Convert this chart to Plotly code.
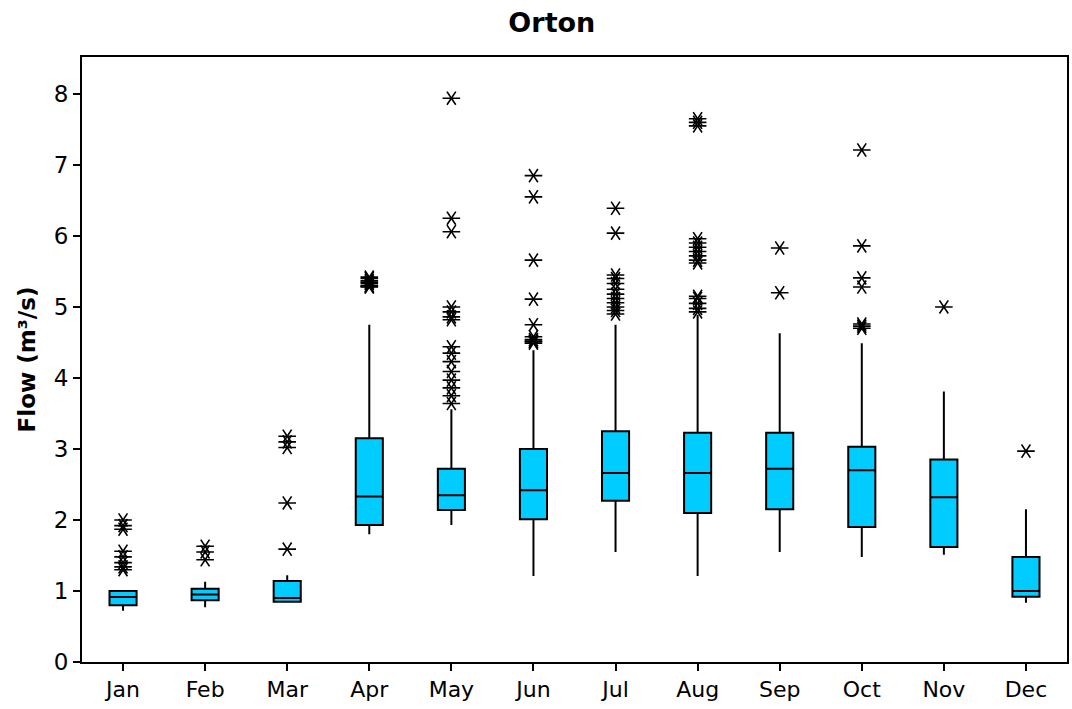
import plotly.graph_objects as go

months = ["Jan", "Feb", "Mar", "Apr", "May", "Jun", "Jul", "Aug", "Sep", "Oct", "Nov", "Dec"]
lower_whisker = [0.72, 0.77, 0.835, 1.80, 1.93, 1.21, 1.55, 1.21, 1.55, 1.48, 1.51, 0.835]
q1 = [0.80, 0.87, 0.85, 1.93, 2.14, 2.01, 2.27, 2.10, 2.15, 1.90, 1.62, 0.92]
median = [0.915, 0.95, 0.90, 2.33, 2.35, 2.42, 2.66, 2.66, 2.72, 2.70, 2.32, 1.00]
q3 = [1.00, 1.03, 1.14, 3.15, 2.72, 3.00, 3.25, 3.23, 3.23, 3.03, 2.85, 1.48]
upper_whisker = [1.01, 1.13, 1.22, 4.75, 3.56, 4.39, 4.75, 4.89, 4.63, 4.49, 3.81, 2.15]

outliers = {
    "Jan": [2.00, 1.92, 1.87, 1.56, 1.48, 1.40, 1.34, 1.30],
    "Feb": [1.63, 1.55, 1.44],
    "Mar": [3.18, 3.10, 3.02, 2.24, 1.59],
    "Apr": [5.42, 5.40, 5.37, 5.35, 5.33, 5.30, 5.29, 5.28],
    "May": [7.94, 6.25, 6.06, 5.00, 4.93, 4.86, 4.82, 4.44, 4.35, 4.23, 4.09, 3.97, 3.86, 3.75, 3.64],
    "Jun": [6.85, 6.55, 5.66, 5.11, 4.75, 4.58, 4.54, 4.52, 4.51, 4.49],
    "Jul": [6.39, 6.04, 5.45, 5.40, 5.33, 5.25, 5.18, 5.12, 5.06, 5.00, 4.95, 4.90],
    "Aug": [7.65, 7.60, 7.55, 5.96, 5.90, 5.84, 5.78, 5.72, 5.66, 5.62, 5.15, 5.12, 5.05, 4.98, 4.93],
    "Sep": [5.83, 5.20],
    "Oct": [7.21, 5.86, 5.41, 5.28, 4.76, 4.73, 4.70],
    "Nov": [5.00],
    "Dec": [2.97],
}

y_ticks = [0, 1, 2, 3, 4, 5, 6, 7, 8]

font_family = "DejaVu Sans"

fig = go.Figure()
fig.add_trace(go.Box(
    x=months,
    q1=q1, median=median, q3=q3,
    lowerfence=lower_whisker, upperfence=upper_whisker,
    boxpoints=False,
    fillcolor="#00CCFF",
    line=dict(color="black", width=2),
    whiskerwidth=0,
    width=0.33,
    showlegend=False,
    hoverinfo="skip",
))

ox, oy = [], []
for m in months:
    for v in outliers[m]:
        ox.append(m)
        oy.append(v)

for sym in ["y-left-open", "y-right-open"]:
    fig.add_trace(go.Scatter(
        x=ox, y=oy, mode="markers",
        marker=dict(symbol=sym, size=11, color="black",
                    line=dict(color="black", width=1.6)),
        showlegend=False, hoverinfo="skip",
    ))

fig.update_layout(
    width=1072, height=709,
    margin=dict(l=82, r=3, t=57, b=47),
    paper_bgcolor="white", plot_bgcolor="white",
    font=dict(family=font_family, color="black", size=23),
    title=dict(text="<b>Orton</b>", x=0.477, xref="paper", xanchor="center",
               y=0.968, yref="container", yanchor="middle",
               font=dict(family=font_family, size=27, color="black")),
)
fig.update_xaxes(
    type="category", categoryorder="array", categoryarray=months,
    range=[-0.5, 11.5],
    showline=True, linecolor="black", linewidth=2, mirror=True,
    ticks="outside", ticklen=7, tickwidth=1.5, tickcolor="black",
    showgrid=False, zeroline=False,
    tickfont=dict(family=font_family, size=22),
)
fig.update_yaxes(
    range=[0, 8.52],
    tickvals=y_ticks,
    showline=True, linecolor="black", linewidth=2, mirror=True,
    ticks="outside", ticklen=7, tickwidth=1.5, tickcolor="black",
    showgrid=False, zeroline=False,
    tickfont=dict(family=font_family, size=23),
    title=dict(text="<b>Flow (m³/s)</b>", standoff=12,
               font=dict(family=font_family, size=23)),
)

fig.write_html("out.html")
